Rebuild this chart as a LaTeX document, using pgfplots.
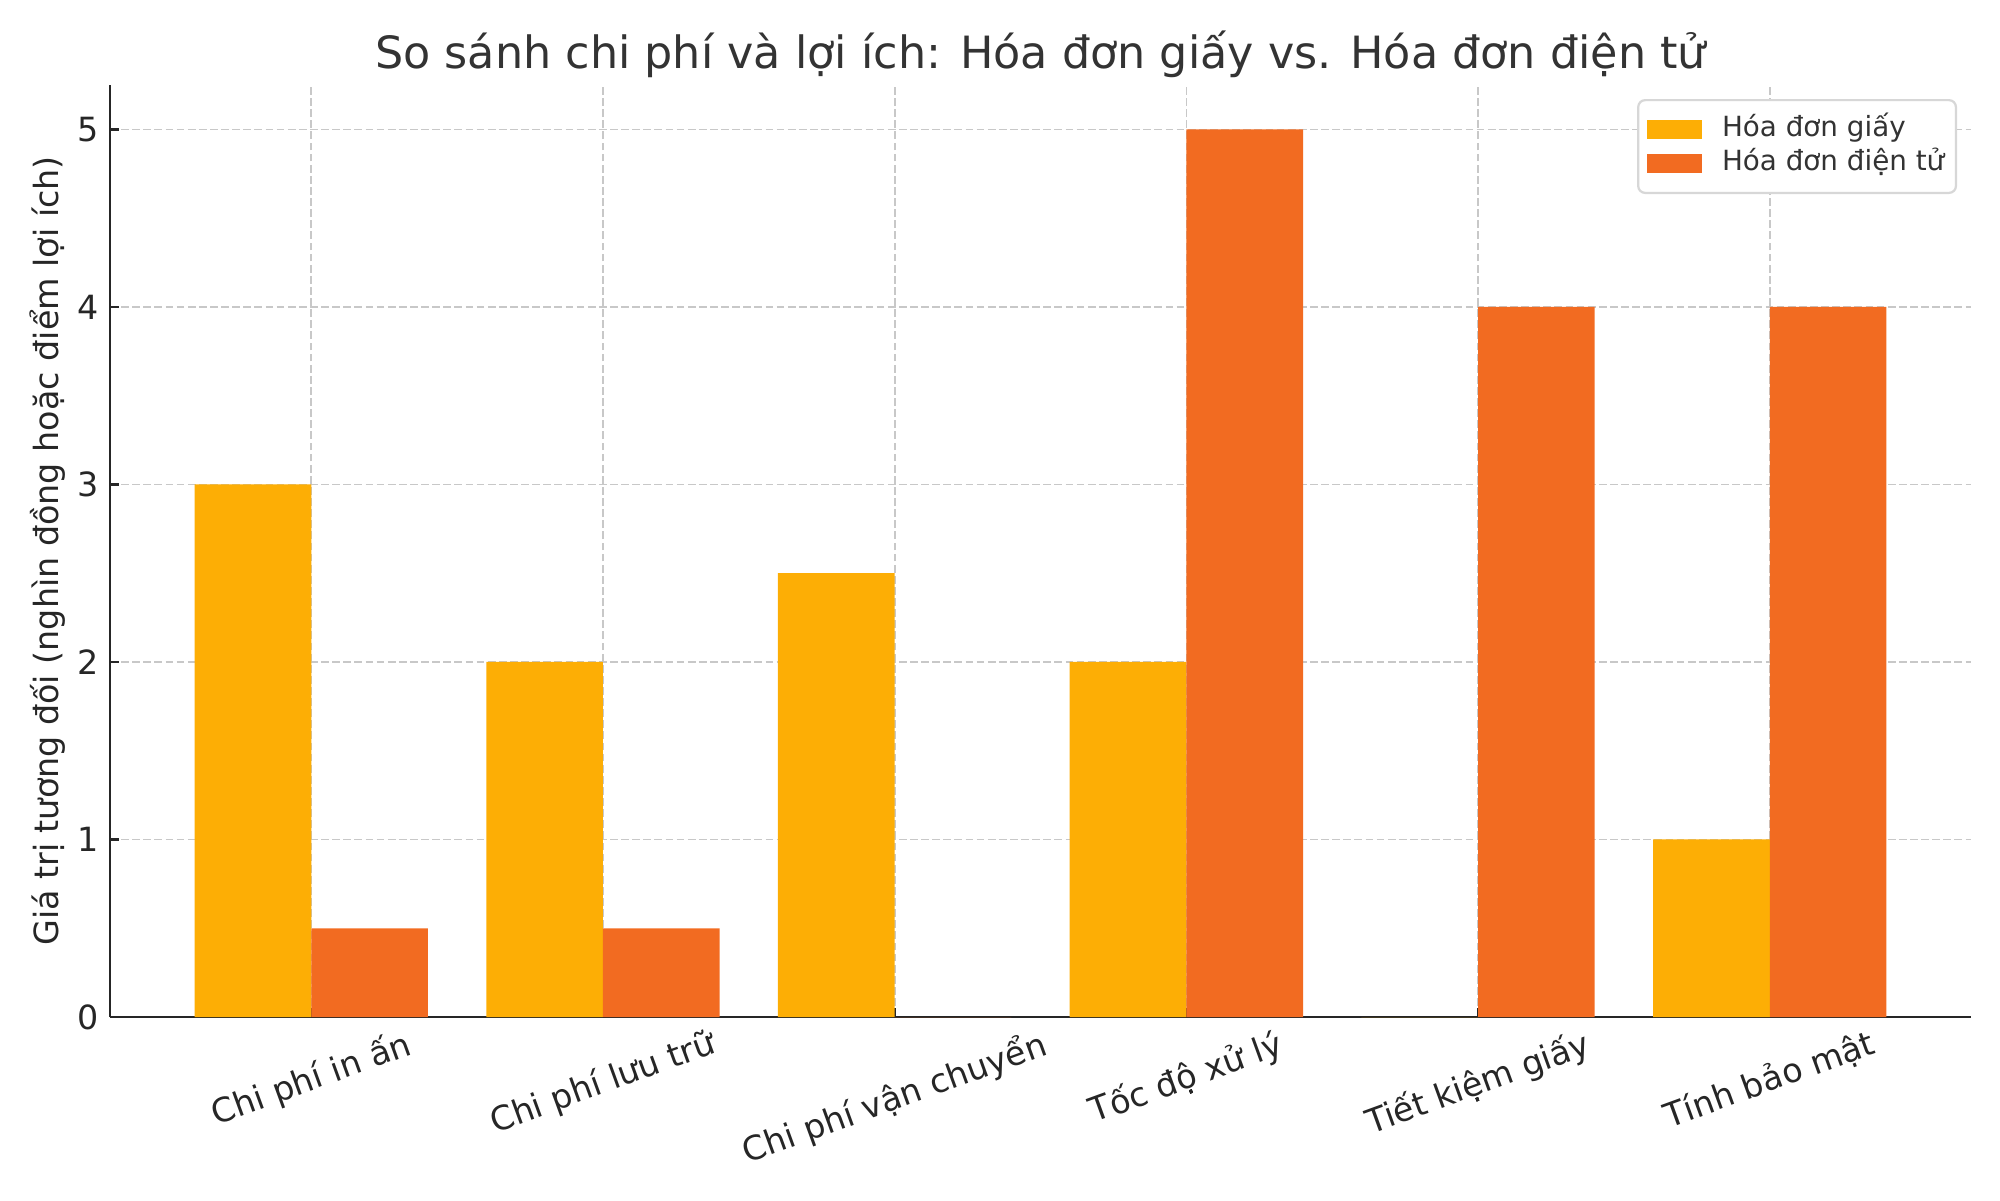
\documentclass[border=0pt]{standalone}
\usepackage{pgfplots}
\pgfplotsset{compat=1.18}
\usepackage{fontspec}
\setmainfont{DejaVu Sans}
\usepackage{graphicx}
\definecolor{paper}{RGB}{253,174,5}
\definecolor{edoc}{RGB}{242,107,33}
\definecolor{txt}{RGB}{38,38,38}
\definecolor{ttl}{RGB}{51,51,51}
\definecolor{gridc}{RGB}{200,200,200}
\definecolor{legc}{RGB}{215,215,215}
\pgfplotsset{mylegend/.style={legend image code/.code={\fill[##1, draw=none, sharp corners] (0pt,-3.4pt) rectangle (20pt,3.4pt);}}}
\begin{document}
\begin{tikzpicture}
\useasboundingbox (0,0) rectangle (720pt,432pt);
\begin{axis}[
  at={(39.6pt,65.88pt)}, anchor=south west,
  scale only axis, width=669.96pt, height=335.5pt,
  xmin=-0.69, xmax=5.69, ymin=0, ymax=5.25,
  axis x line*=bottom, axis y line*=left,
  axis line style={-, line width=0.8pt, color=black!85},
  tick align=inside, major tick length=3.3pt,
  tick style={line width=0.8pt, color=black!85},
  xtick={0,...,5}, ytick={0,...,5},
  xticklabels={{\rotatebox{20}{Chi phí in ấn}},{\rotatebox{20}{Chi phí lưu trữ}},{\rotatebox{20}{Chi phí vận chuyển}},{\rotatebox{20}{Tốc độ xử lý}},{\rotatebox{20}{Tiết kiệm giấy}},{\rotatebox{20}{Tính bảo mật}}},
  xticklabel style={anchor=north, inner sep=0pt, yshift=-3.5pt, font=\fontsize{12}{14.4}\selectfont, text=txt},
  yticklabel style={anchor=east, inner sep=0pt, xshift=-4pt, font=\fontsize{12}{14.4}\selectfont, text=txt},
  /pgf/number format/assume math mode=true,
  xmajorgrids, ymajorgrids,
  major grid style={dash pattern=on 2.8pt off 1.2pt, line width=0.6pt, color=gridc},
  title={So sánh chi phí và lợi ích: Hóa đơn giấy vs. Hóa đơn điện tử},
  title style={at={(axis description cs:0.5,1)}, anchor=center, yshift=5.2pt, font=\fontsize{16}{19.2}\selectfont, text=ttl},
  ylabel={Giá trị tương đối (nghìn đồng hoặc điểm lợi ích)},
  ylabel style={at={(axis description cs:-0.03373,0.5)}, anchor=center, font=\fontsize{12}{14.4}\selectfont, text=txt},
  legend style={at={(axis description cs:0.9925,0.985)}, anchor=north east,
    draw=legc, line width=0.8pt, rounded corners=2.5pt, fill=white,
    font=\fontsize{10}{12}\selectfont, text=ttl, inner xsep=3pt, inner ysep=4.5pt,
    row sep=0pt,
    nodes={inner sep=1.2pt, text height=7.5pt, text depth=2.3pt},
    /tikz/every odd column/.append style={column sep=6pt}},
  legend cell align=left,
]
\addplot[ybar, bar width=0.4, bar shift=-0.2, fill=paper, draw=none, mylegend]
  coordinates {(0,3) (1,2) (2,2.5) (3,2) (4,0) (5,1)};
\addlegendentry{Hóa đơn giấy}
\addplot[ybar, bar width=0.4, bar shift=0.2, fill=edoc, draw=none, mylegend]
  coordinates {(0,0.5) (1,0.5) (2,0) (3,5) (4,4) (5,4)};
\addlegendentry{Hóa đơn điện tử}
\end{axis}
\end{tikzpicture}
\end{document}
